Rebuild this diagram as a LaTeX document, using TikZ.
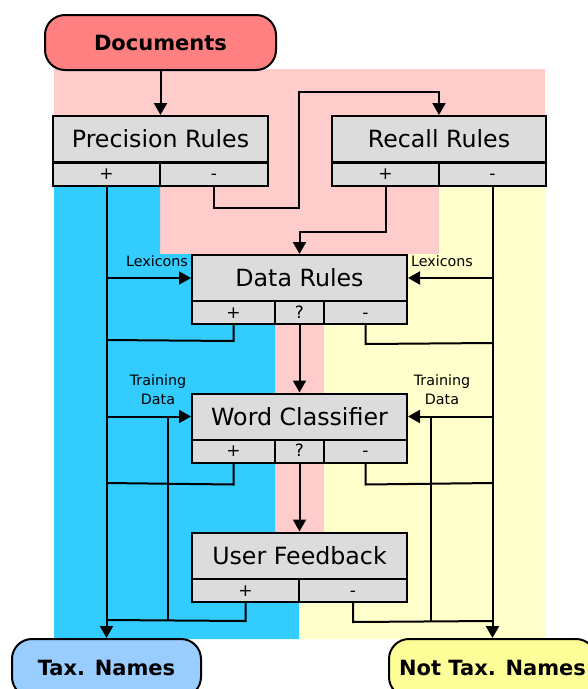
\documentclass[tikz,border=0pt]{standalone}
\usepackage{fontspec}
\setmainfont{DejaVu Sans}
\usetikzlibrary{arrows.meta,calc}
\definecolor{bgpink}{HTML}{FFCCCC}
\definecolor{bgblue}{HTML}{33CCFF}
\definecolor{bgyellow}{HTML}{FFFFCC}
\definecolor{boxgray}{HTML}{DCDCDC}
\definecolor{docred}{HTML}{FF8080}
\definecolor{taxblue}{HTML}{99CCFF}
\definecolor{ntaxyellow}{HTML}{FFFF99}
\begin{document}
\begin{tikzpicture}[x=1pt,y=-1pt,line width=2pt,
  titlebox/.style={draw,fill=boxgray,minimum height=46pt,inner sep=0pt,font=\fontsize{23.7}{27}\selectfont},
  portbox/.style={draw,fill=boxgray,minimum height=23pt,inner sep=0pt,text height=11pt,text depth=0pt,font=\fontsize{17}{20}\selectfont},
  term/.style={draw,rounded corners=20pt,inner sep=0pt,minimum height=56pt,font=\bfseries\fontsize{21}{25}\selectfont},
  lbl/.style={font=\fontsize{14.3}{19}\selectfont,align=center,inner sep=0pt},
  arr/.style={-{Triangle[length=12pt,width=13pt]}}]
\useasboundingbox (0,0) rectangle (588,689);
\clip (0,0) rectangle (588,689);
% background regions
\fill[bgpink] (54,69) rectangle (545,639);
\fill[bgblue] (54,186) -- (160,186) -- (160,254) -- (275,254) -- (275,602) -- (299,602) -- (299,639) -- (54,639) -- cycle;
\fill[bgyellow] (439,186) -- (545,186) -- (545,639) -- (299,639) -- (299,602) -- (324,602) -- (324,254) -- (439,254) -- cycle;
% nodes
\node[term,fill=docred,minimum width=231pt,minimum height=55pt] (doc) at (160.5,42.5) {Documents};
\node[titlebox,minimum width=215pt] (pr) at (160.5,139) {Precision Rules};
\node[portbox,minimum width=107pt] (prp) at (106.5,174) {+};
\node[portbox,minimum width=108pt] (prm) at (214,174) {-};
\node[titlebox,minimum width=214pt] (rr) at (439,139) {Recall Rules};
\node[portbox,minimum width=107pt] (rrp) at (385.5,174) {+};
\node[portbox,minimum width=107pt] (rrm) at (492.5,174) {-};
\node[titlebox,minimum width=215pt] (dr) at (299.5,278) {Data Rules};
\node[portbox,minimum width=83pt] (drp) at (233.5,312.5) {+};
\node[portbox,minimum width=49pt] (drq) at (299.5,312.5) {?};
\node[portbox,minimum width=83pt] (drm) at (365.5,312.5) {-};
\node[titlebox,minimum width=215pt] (wc) at (299.5,416.5) {Word Classifier};
\node[portbox,minimum width=83pt] (wcp) at (233.5,451) {+};
\node[portbox,minimum width=49pt] (wcq) at (299.5,451) {?};
\node[portbox,minimum width=83pt] (wcm) at (365.5,451) {-};
\node[titlebox,minimum width=215pt] (uf) at (299.5,555.5) {User Feedback};
\node[portbox,minimum width=107pt] (ufp) at (245.5,590.5) {+};
\node[portbox,minimum width=108pt] (ufm) at (353,590.5) {-};
\node[term,fill=taxblue,minimum width=189pt,minimum height=58pt] (tax) at (106.5,668) {Tax. Names};
\node[term,fill=ntaxyellow,minimum width=207pt,minimum height=58pt] (ntax) at (492.5,668) {Not Tax. Names};
% labels
\node[lbl] (lexl) at (157,261) {Lexicons};
\node[lbl] (lexr) at (442,261) {Lexicons};
\node[lbl] (trl) at (158,390) {Training\\Data};
\node[lbl] (trr) at (442,390) {Training\\Data};
% connectors
\draw[arr] (doc.south) -- (pr.north);
\draw[arr] (prm.south) |- (299,208) -- (299,92) -| (rr.north);
\draw[arr] (rrp.south) -- ++(0,45) -| (dr.north);
\draw[arr] (drq.south) -- (wc.north);
\draw[arr] (wcq.south) -- (uf.north);
% left side
\draw[arr] (prp.south) -- (prp.south |- tax.north);
\draw[arr] (prp.south |- dr.west) -- (dr.west);
\draw (drp.south) -- ++(0,16) -- (106.5,340);
\draw[arr] (prp.south |- wc.west) -- (wc.west);
\draw (168,416.5) -- (168,620);
\draw (wcp.south) -- ++(0,21) -- (106.5,483);
\draw (ufp.south) -- ++(0,18) -- (106.5,620);
% right side
\draw[arr] (rrm.south) -- (rrm.south |- ntax.north);
\draw[arr] (rrm.south |- dr.east) -- (dr.east);
\draw (drm.south) -- ++(0,19) -- (492.5,343);
\draw[arr] (rrm.south |- wc.east) -- (wc.east);
\draw (431,416.5) -- (431,621);
\draw (wcm.south) -- ++(0,21) -- (492.5,483);
\draw (ufm.south) -- ++(0,19) -- (492.5,621);
\end{tikzpicture}
\end{document}
